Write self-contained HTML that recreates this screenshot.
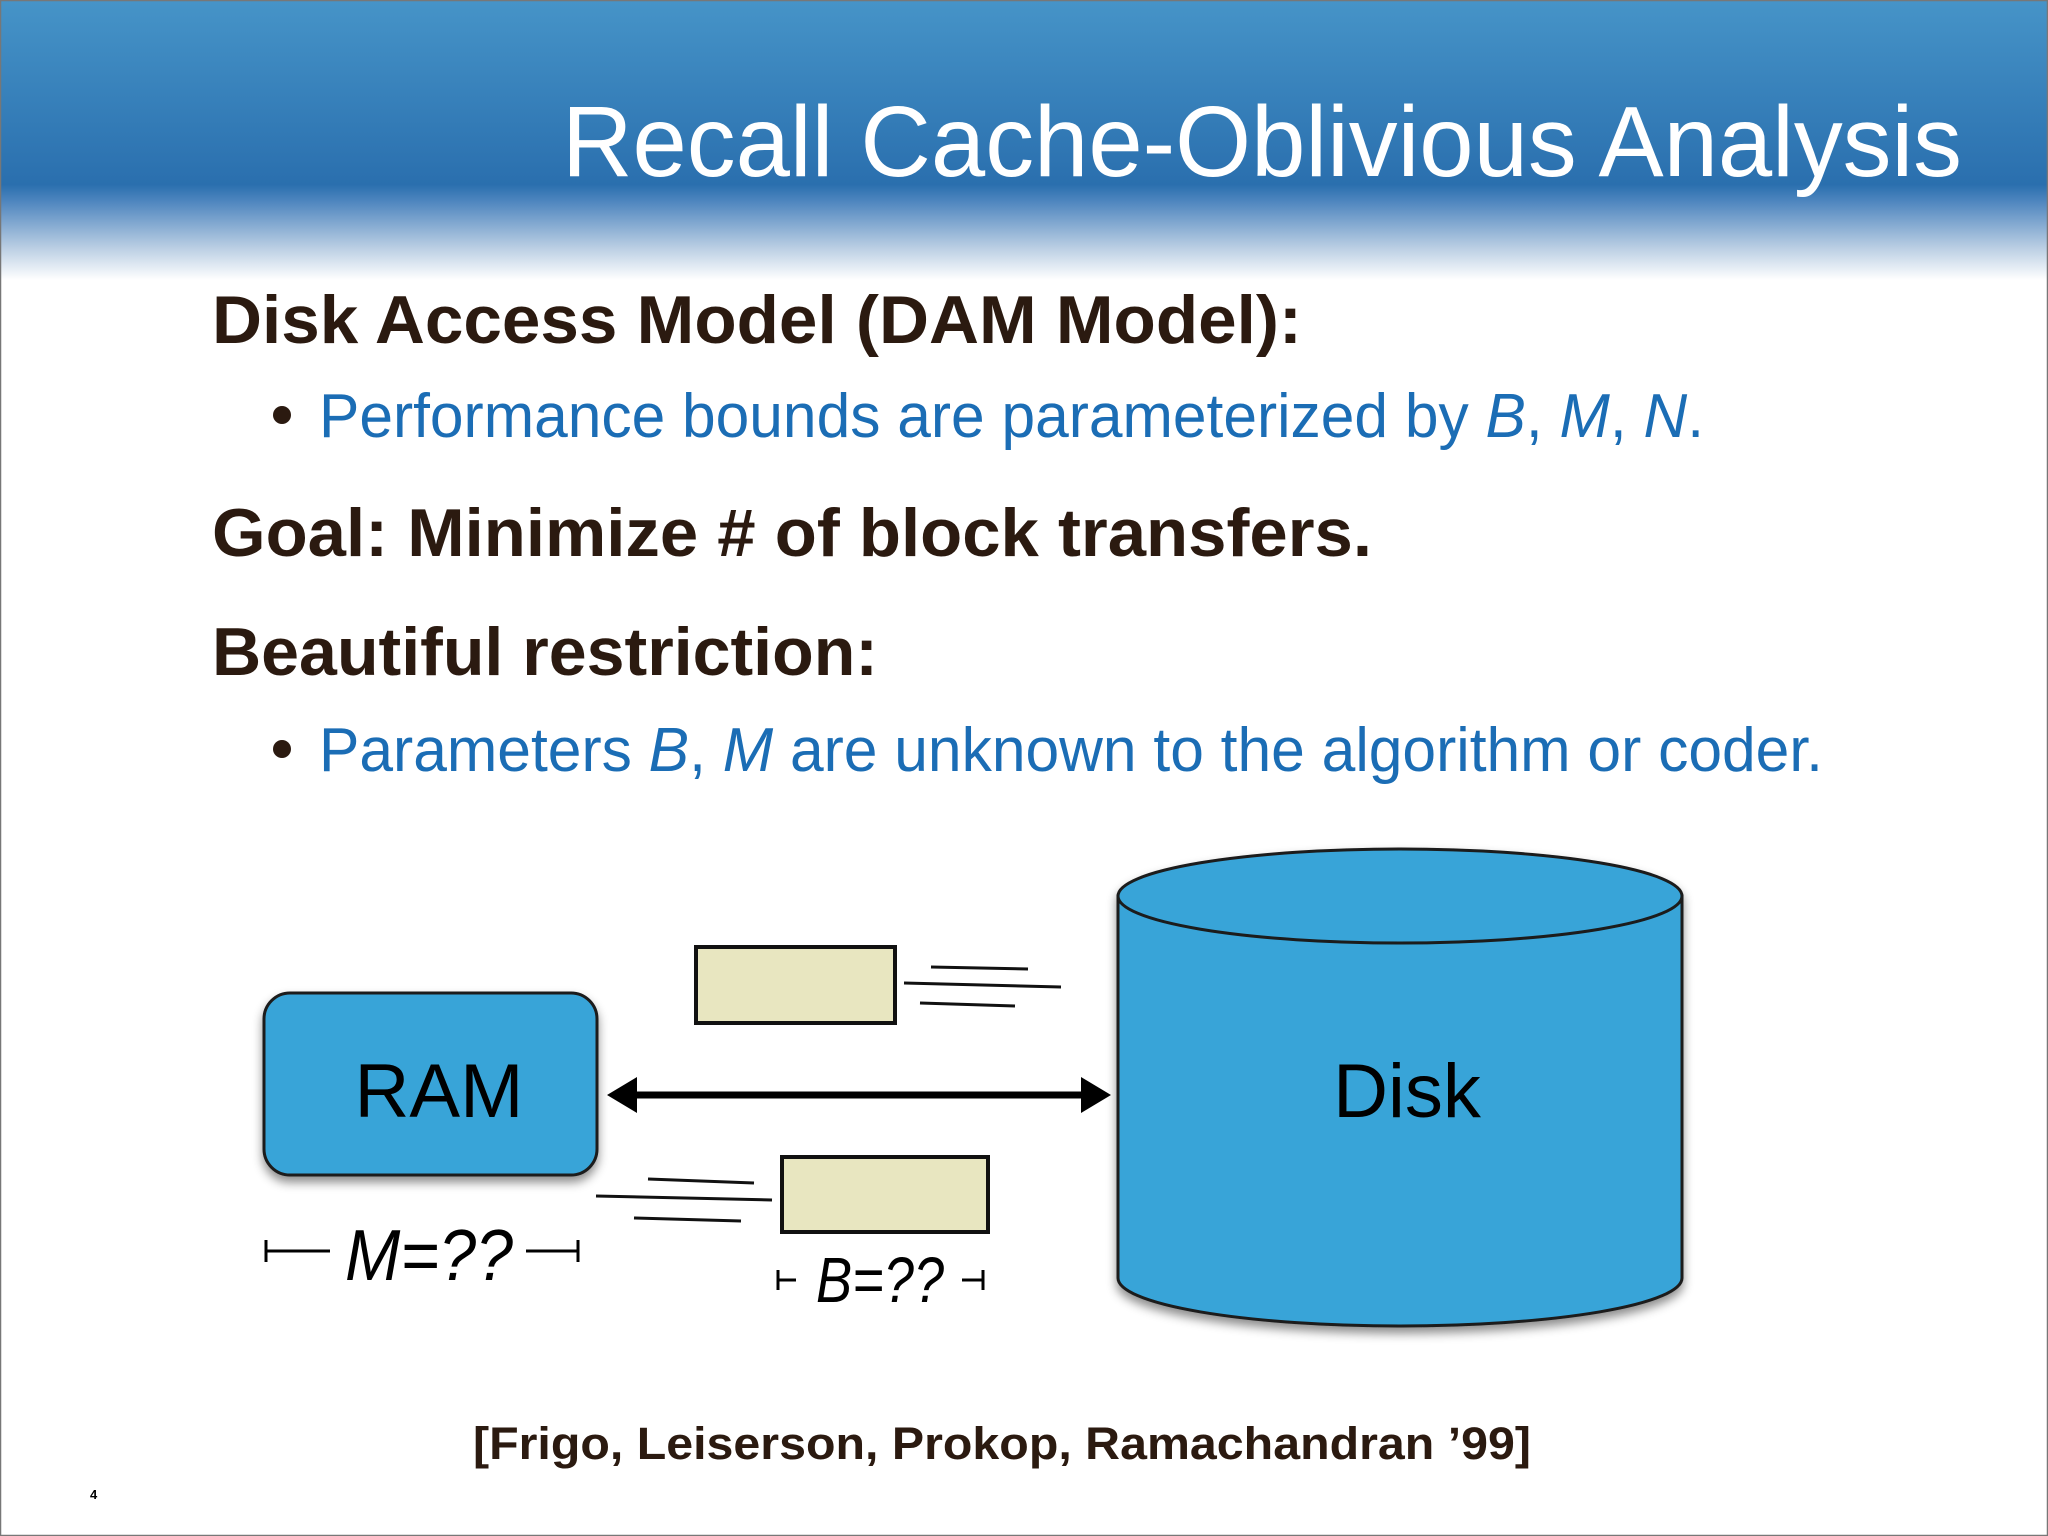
<!DOCTYPE html>
<html><head><meta charset="utf-8"><style>
html,body{margin:0;padding:0;background:#fff}
svg{display:block}
</style></head><body>
<svg width="2048" height="1536" viewBox="0 0 2048 1536" xmlns="http://www.w3.org/2000/svg">
<defs>
<linearGradient id="hdr" x1="0" y1="0" x2="0" y2="1">
<stop offset="0" stop-color="#4694c8"/>
<stop offset="0.66" stop-color="#2a6fae"/>
<stop offset="0.72" stop-color="#4f86bf"/>
<stop offset="0.88" stop-color="#b7cce2"/>
<stop offset="1" stop-color="#ffffff"/>
</linearGradient>
<filter id="sh" x="-10%" y="-10%" width="130%" height="130%">
<feDropShadow dx="0" dy="6" stdDeviation="5" flood-color="#000" flood-opacity="0.45"/>
</filter>
</defs>
<rect x="0" y="0" width="2048" height="1536" fill="#fff"/>
<rect x="0" y="0" width="2048" height="280" fill="url(#hdr)"/>
<rect x="0.5" y="0.5" width="2047" height="1535" fill="none" stroke="#777" stroke-width="1.5"/>
<text x="562" y="176" font-family="Liberation Sans, sans-serif" font-size="100" fill="#fff" textLength="1400" lengthAdjust="spacingAndGlyphs">Recall Cache-Oblivious Analysis</text>

<g font-family="Liberation Sans, sans-serif">
<text x="212" y="343" font-size="68" font-weight="bold" fill="#2b1a10" textLength="1090" lengthAdjust="spacingAndGlyphs">Disk Access Model (DAM Model):</text>
<circle cx="282" cy="415" r="9" fill="#2b1a10"/>
<text x="319" y="437" font-size="62" fill="#1b6db5" textLength="1385" lengthAdjust="spacingAndGlyphs">Performance bounds are parameterized by <tspan font-style="italic">B</tspan>, <tspan font-style="italic">M</tspan>, <tspan font-style="italic">N</tspan>.</text>
<text x="212" y="556" font-size="68" font-weight="bold" fill="#2b1a10" textLength="1160" lengthAdjust="spacingAndGlyphs">Goal: Minimize # of block transfers.</text>
<text x="212" y="675" font-size="68" font-weight="bold" fill="#2b1a10" textLength="666" lengthAdjust="spacingAndGlyphs">Beautiful restriction:</text>
<circle cx="282" cy="749" r="9" fill="#2b1a10"/>
<text x="319" y="771" font-size="62" fill="#1b6db5" textLength="1504" lengthAdjust="spacingAndGlyphs">Parameters <tspan font-style="italic">B</tspan>, <tspan font-style="italic">M</tspan> are unknown to the algorithm or coder.</text>
</g>

<!-- RAM -->
<rect x="264" y="993" width="333" height="182" rx="26" fill="#38a4d8" stroke="#1a1a1a" stroke-width="3" filter="url(#sh)"/>
<text x="439" y="1117" text-anchor="middle" font-family="Liberation Sans, sans-serif" font-size="76" fill="#000">RAM</text>

<!-- Disk cylinder -->
<g filter="url(#sh)">
<path d="M1118,896 L1118,1278 A282,48 0 0 0 1682,1278 L1682,896 Z" fill="#38a4d8" stroke="#1a1a1a" stroke-width="3"/>
<ellipse cx="1400" cy="896" rx="282" ry="47" fill="#38a4d8" stroke="#1a1a1a" stroke-width="3"/>
</g>
<text x="1407" y="1117" text-anchor="middle" font-family="Liberation Sans, sans-serif" font-size="76" fill="#000">Disk</text>

<!-- arrow -->
<line x1="630" y1="1095" x2="1088" y2="1095" stroke="#000" stroke-width="7"/>
<polygon points="607,1095 637,1077 637,1113" fill="#000"/>
<polygon points="1111,1095 1081,1077 1081,1113" fill="#000"/>

<!-- blocks -->
<rect x="696" y="947" width="199" height="76" fill="#e8e6c0" stroke="#111" stroke-width="4"/>
<g stroke="#111" stroke-width="3">
<line x1="931" y1="967" x2="1028" y2="969"/>
<line x1="904" y1="983" x2="1061" y2="987"/>
<line x1="920" y1="1003" x2="1015" y2="1006"/>
</g>
<rect x="782" y="1157" width="206" height="75" fill="#e8e6c0" stroke="#111" stroke-width="4"/>
<g stroke="#111" stroke-width="3">
<line x1="648" y1="1179" x2="754" y2="1183"/>
<line x1="596" y1="1196" x2="772" y2="1200"/>
<line x1="634" y1="1218" x2="741" y2="1221"/>
</g>

<!-- dimension labels -->
<g stroke="#000" stroke-width="3">
<line x1="266" y1="1240" x2="266" y2="1262"/><line x1="266" y1="1251" x2="330" y2="1251"/>
<line x1="578" y1="1240" x2="578" y2="1262"/><line x1="526" y1="1251" x2="578" y2="1251"/>
<line x1="778" y1="1270" x2="778" y2="1290"/><line x1="778" y1="1280" x2="796" y2="1280"/>
<line x1="983" y1="1270" x2="983" y2="1290"/><line x1="962" y1="1280" x2="983" y2="1280"/>
</g>
<text x="345" y="1280" font-family="Liberation Sans, sans-serif" font-size="72" font-style="italic" fill="#000" textLength="168" lengthAdjust="spacingAndGlyphs">M=??</text>
<text x="816" y="1302" font-family="Liberation Sans, sans-serif" font-size="64" font-style="italic" fill="#000" textLength="128" lengthAdjust="spacingAndGlyphs">B=??</text>

<text x="473" y="1459" font-family="Liberation Sans, sans-serif" font-size="45" font-weight="bold" fill="#2b1a10" textLength="1058" lengthAdjust="spacingAndGlyphs">[Frigo, Leiserson, Prokop, Ramachandran ’99]</text>
<text x="90" y="1499" font-family="Liberation Sans, sans-serif" font-size="13" font-weight="bold" fill="#000">4</text>
</svg>
</body></html>
